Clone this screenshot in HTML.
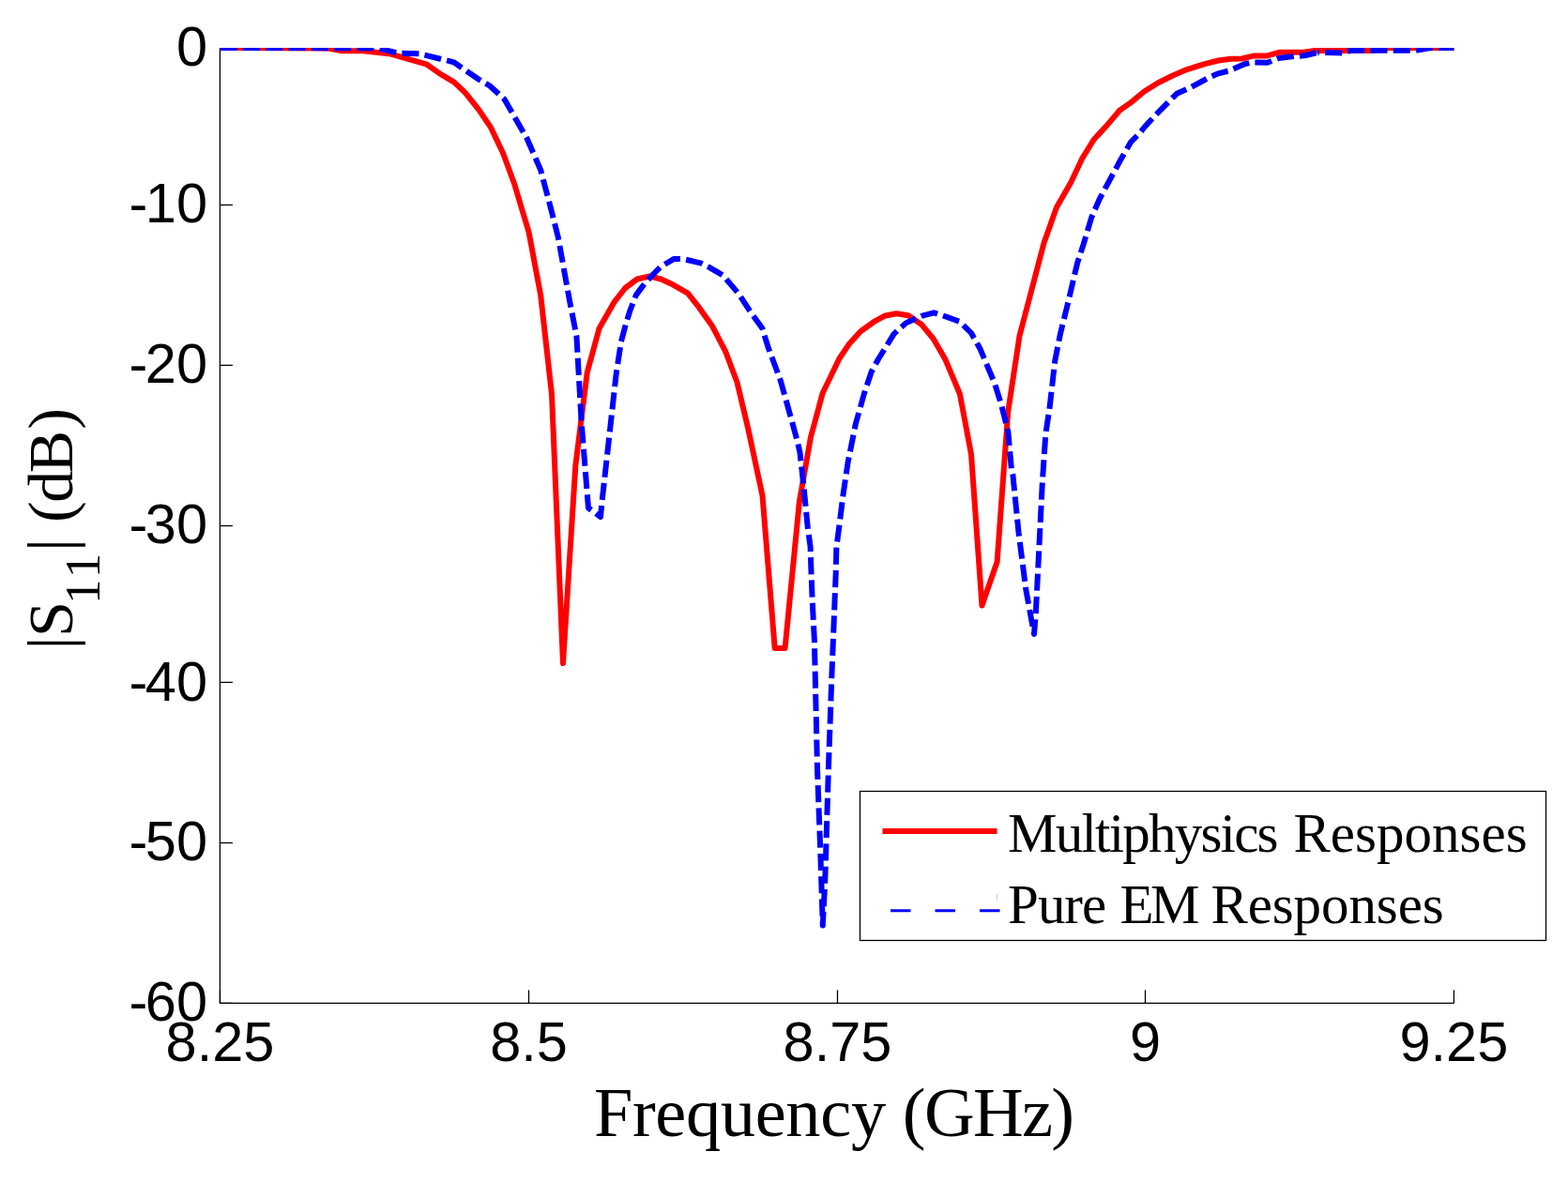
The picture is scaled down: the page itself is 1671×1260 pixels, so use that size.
<!DOCTYPE html>
<html><head><meta charset="utf-8"><style>
html,body{margin:0;padding:0;background:#fff;}
svg{display:block;}
.tl{font-family:"Liberation Sans",Arial,sans-serif;font-size:59.5px;fill:#000;}
.lb{font-family:"Liberation Serif","Times New Roman",serif;fill:#000;}
</style></head><body>
<svg width="1671" height="1260" viewBox="0 0 1671 1260">
<rect width="1671" height="1260" fill="#fff"/>
<defs><clipPath id="ax"><rect x="234.4" y="51.0" width="1315.0" height="1038.4"/></clipPath></defs>
<g stroke="#000" stroke-width="1.3" fill="none">
<line x1="234.4" y1="51.0" x2="234.4" y2="1069.4"/>
<line x1="234.4" y1="1069.4" x2="1549.4" y2="1069.4"/>
<line x1="234.5" y1="1069.4" x2="234.5" y2="1055.4"/>
<line x1="563.5" y1="1069.4" x2="563.5" y2="1055.4"/>
<line x1="892.5" y1="1069.4" x2="892.5" y2="1055.4"/>
<line x1="1220.5" y1="1069.4" x2="1220.5" y2="1055.4"/>
<line x1="1549.4" y1="1069.4" x2="1549.4" y2="1055.4"/>
<line x1="234.4" y1="218.5" x2="247.9" y2="218.5"/>
<line x1="234.4" y1="389.4" x2="247.9" y2="389.4"/>
<line x1="234.4" y1="560.5" x2="247.9" y2="560.5"/>
<line x1="234.4" y1="727.4" x2="247.9" y2="727.4"/>
<line x1="234.4" y1="898.5" x2="247.9" y2="898.5"/>
<line x1="234.4" y1="1069.4" x2="247.9" y2="1069.4"/>
</g>
<g clip-path="url(#ax)" fill="none" stroke-linejoin="round">
<polyline points="234.6,51.0 350.2,51.5 364.5,54.2 387.0,54.2 416.6,57.6 454.9,68.7 469.3,78.9 483.6,87.3 495.6,98.6 510.0,116.6 522.9,135.6 536.2,163.5 548.3,196.5 563.5,247.3 576.2,314.8 588.0,420.3 600.0,707.0 613.3,496.5 625.7,397.3 638.6,350.0 654.3,322.4 666.3,307.0 679.0,297.5 692.4,294.5 704.4,297.5 717.8,303.8 733.0,312.7 745.1,327.9 759.0,347.6 773.0,374.3 785.5,407.5 797.3,457.1 812.5,528.3 825.7,691.0 836.6,691.0 851.9,534.6 864.0,466.0 876.6,419.2 894.3,382.5 904.4,367.3 917.1,353.3 931.1,343.2 942.5,336.8 955.2,334.3 967.9,336.2 981.9,345.7 994.6,361.0 1007.2,382.7 1022.9,420.0 1035.0,484.3 1046.5,645.5 1062.6,599.0 1074.3,438.6 1086.4,358.6 1112.5,259.0 1126.0,221.0 1141.1,194.8 1153.0,169.4 1165.7,148.7 1179.9,133.4 1193.1,117.8 1205.1,109.4 1219.4,97.5 1233.8,88.5 1249.3,80.7 1264.9,74.1 1284.0,68.1 1298.4,64.5 1311.6,62.7 1323.5,62.5 1336.7,59.4 1350.6,59.4 1363.0,55.8 1389.2,55.8 1403.0,53.7 1465.0,53.9 1479.0,51.0 1550.0,51.0" stroke="#ff0000" stroke-width="6" stroke-linecap="round"/>
<polyline points="234.6,51.0 402.0,51.2 424.0,56.6 446.5,57.2 483.6,66.3 510.0,84.5 522.0,91.5 537.5,105.8 561.5,147.5 576.2,181.3 587.5,224.0 594.8,252.9 607.1,321.0 614.4,358.1 619.7,450.8 627.0,541.5 640.0,551.0 641.3,537.0 656.5,400.0 661.9,364.3 667.0,345.2 671.4,331.1 677.8,314.6 685.4,304.4 693.7,294.9 704.4,284.1 718.4,275.9 727.3,275.9 746.3,280.3 756.5,285.3 770.5,293.5 787.0,313.0 799.7,332.3 812.4,350.0 818.7,370.5 831.6,405.0 843.0,445.7 849.4,469.2 852.5,482.5 856.3,516.8 858.6,540.0 860.7,561.4 863.6,582.9 864.3,604.3 865.7,640.0 867.9,682.9 871.0,819.0 874.5,914.0 876.8,986.5 879.3,938.0 882.9,819.0 886.4,720.0 887.9,683.0 889.3,647.0 890.7,611.4 891.4,582.9 894.3,561.4 898.6,526.7 903.7,492.4 911.9,451.7 920.8,420.0 928.6,396.5 936.2,382.5 952.7,355.9 965.4,344.4 981.9,336.8 995.2,333.3 1009.8,338.1 1022.9,342.9 1035.0,355.0 1044.3,371.4 1060.0,408.6 1067.1,431.4 1074.3,460.0 1077.9,500.0 1079.4,506.2 1085.5,567.3 1093.3,628.4 1102.0,676.0 1103.8,654.6 1107.3,584.8 1110.8,514.9 1114.3,462.9 1118.6,434.3 1124.3,384.3 1130.0,355.7 1137.1,327.1 1148.3,279.7 1154.6,260.6 1163.3,231.5 1172.1,211.5 1183.2,190.8 1194.3,170.2 1205.4,151.1 1214.9,141.6 1219.4,135.7 1236.2,117.8 1254.1,99.8 1269.7,92.7 1287.6,83.1 1298.4,78.3 1310.4,75.3 1320.0,71.1 1327.1,68.1 1334.3,66.3 1350.6,66.8 1363.0,62.0 1379.6,60.0 1390.6,59.3 1404.3,55.8" stroke="#0000ff" stroke-width="6" stroke-dasharray="18.1 6.2" stroke-linecap="butt"/>
<polyline points="1404.3,55.8 1430.5,56.5 1440.0,53.8 1509.0,53.8 1522.7,51.2 1550.0,51.0" stroke="#0000ff" stroke-width="6" stroke-dasharray="18.1 6.2" stroke-dashoffset="16.4" stroke-linecap="butt"/>
</g>

<g class="tl">
<text x="234.5" y="1131.2" text-anchor="middle">8.25</text>
<text x="563.5" y="1131.2" text-anchor="middle">8.5</text>
<text x="892.5" y="1131.2" text-anchor="middle">8.75</text>
<text x="1220.5" y="1131.2" text-anchor="middle">9</text>
<text x="1549.4" y="1131.2" text-anchor="middle">9.25</text>
<text x="221.0" y="70.2" text-anchor="end">0</text>
<text x="221.0" y="236.6" text-anchor="end" dx="0 -2.5">-10</text>
<text x="221.0" y="407.9" text-anchor="end" dx="0 -2.5">-20</text>
<text x="221.0" y="578.8" text-anchor="end" dx="0 -2.5">-30</text>
<text x="221.0" y="747.1" text-anchor="end" dx="0 -2.5">-40</text>
<text x="221.0" y="917.1" text-anchor="end" dx="0 -2.5">-50</text>
<text x="221.0" y="1088.0" text-anchor="end" dx="0 -2.5">-60</text>
</g>
<text class="lb" x="632.91" y="1211.00" font-size="74.4" textLength="311.17" lengthAdjust="spacing">Frequency</text>
<text class="lb" x="961.83" y="1211.00" font-size="74.4" textLength="183.29" lengthAdjust="spacing">(GHz)</text>
<text class="lb" transform="translate(76.5,700) rotate(-90)" font-size="68"><tspan x="7.8" y="0">|</tspan><tspan x="20.9" y="0" font-size="68.5">S</tspan><tspan x="56 83.75" y="29.1" font-size="53">11</tspan><tspan x="112.2 126 143.1 164.2 195.8 242.2" y="0">| (dB)</tspan></text>
<g>
<rect x="916.5" y="843.5" width="731" height="159" fill="#fff" stroke="#000" stroke-width="1.3"/>
<line x1="940.5" y1="886" x2="1062.5" y2="886" stroke="#ff0000" stroke-width="6"/>
<line x1="1062.4" y1="953" x2="1062.4" y2="959.5" stroke="#0000ff" stroke-opacity="0.25" stroke-width="1"/>
<line x1="949" y1="970.7" x2="1065.5" y2="970.7" stroke="#0000ff" stroke-width="3" stroke-dasharray="21.5 26"/>
<text class="lb" x="1074.10" y="908.00" font-size="59" textLength="288.49" lengthAdjust="spacing">Multiphysics</text>
<text class="lb" x="1378.50" y="908.00" font-size="59" textLength="249.25" lengthAdjust="spacing">Responses</text>
<text class="lb" x="1074.10" y="983.60" font-size="59" textLength="105.08" lengthAdjust="spacing">Pure</text>
<text class="lb" x="1193.50" y="983.60" font-size="59" textLength="84.96" lengthAdjust="spacing">EM</text>
<text class="lb" x="1290.40" y="983.60" font-size="59" textLength="248.35" lengthAdjust="spacing">Responses</text>
</g>
</svg>
</body></html>
